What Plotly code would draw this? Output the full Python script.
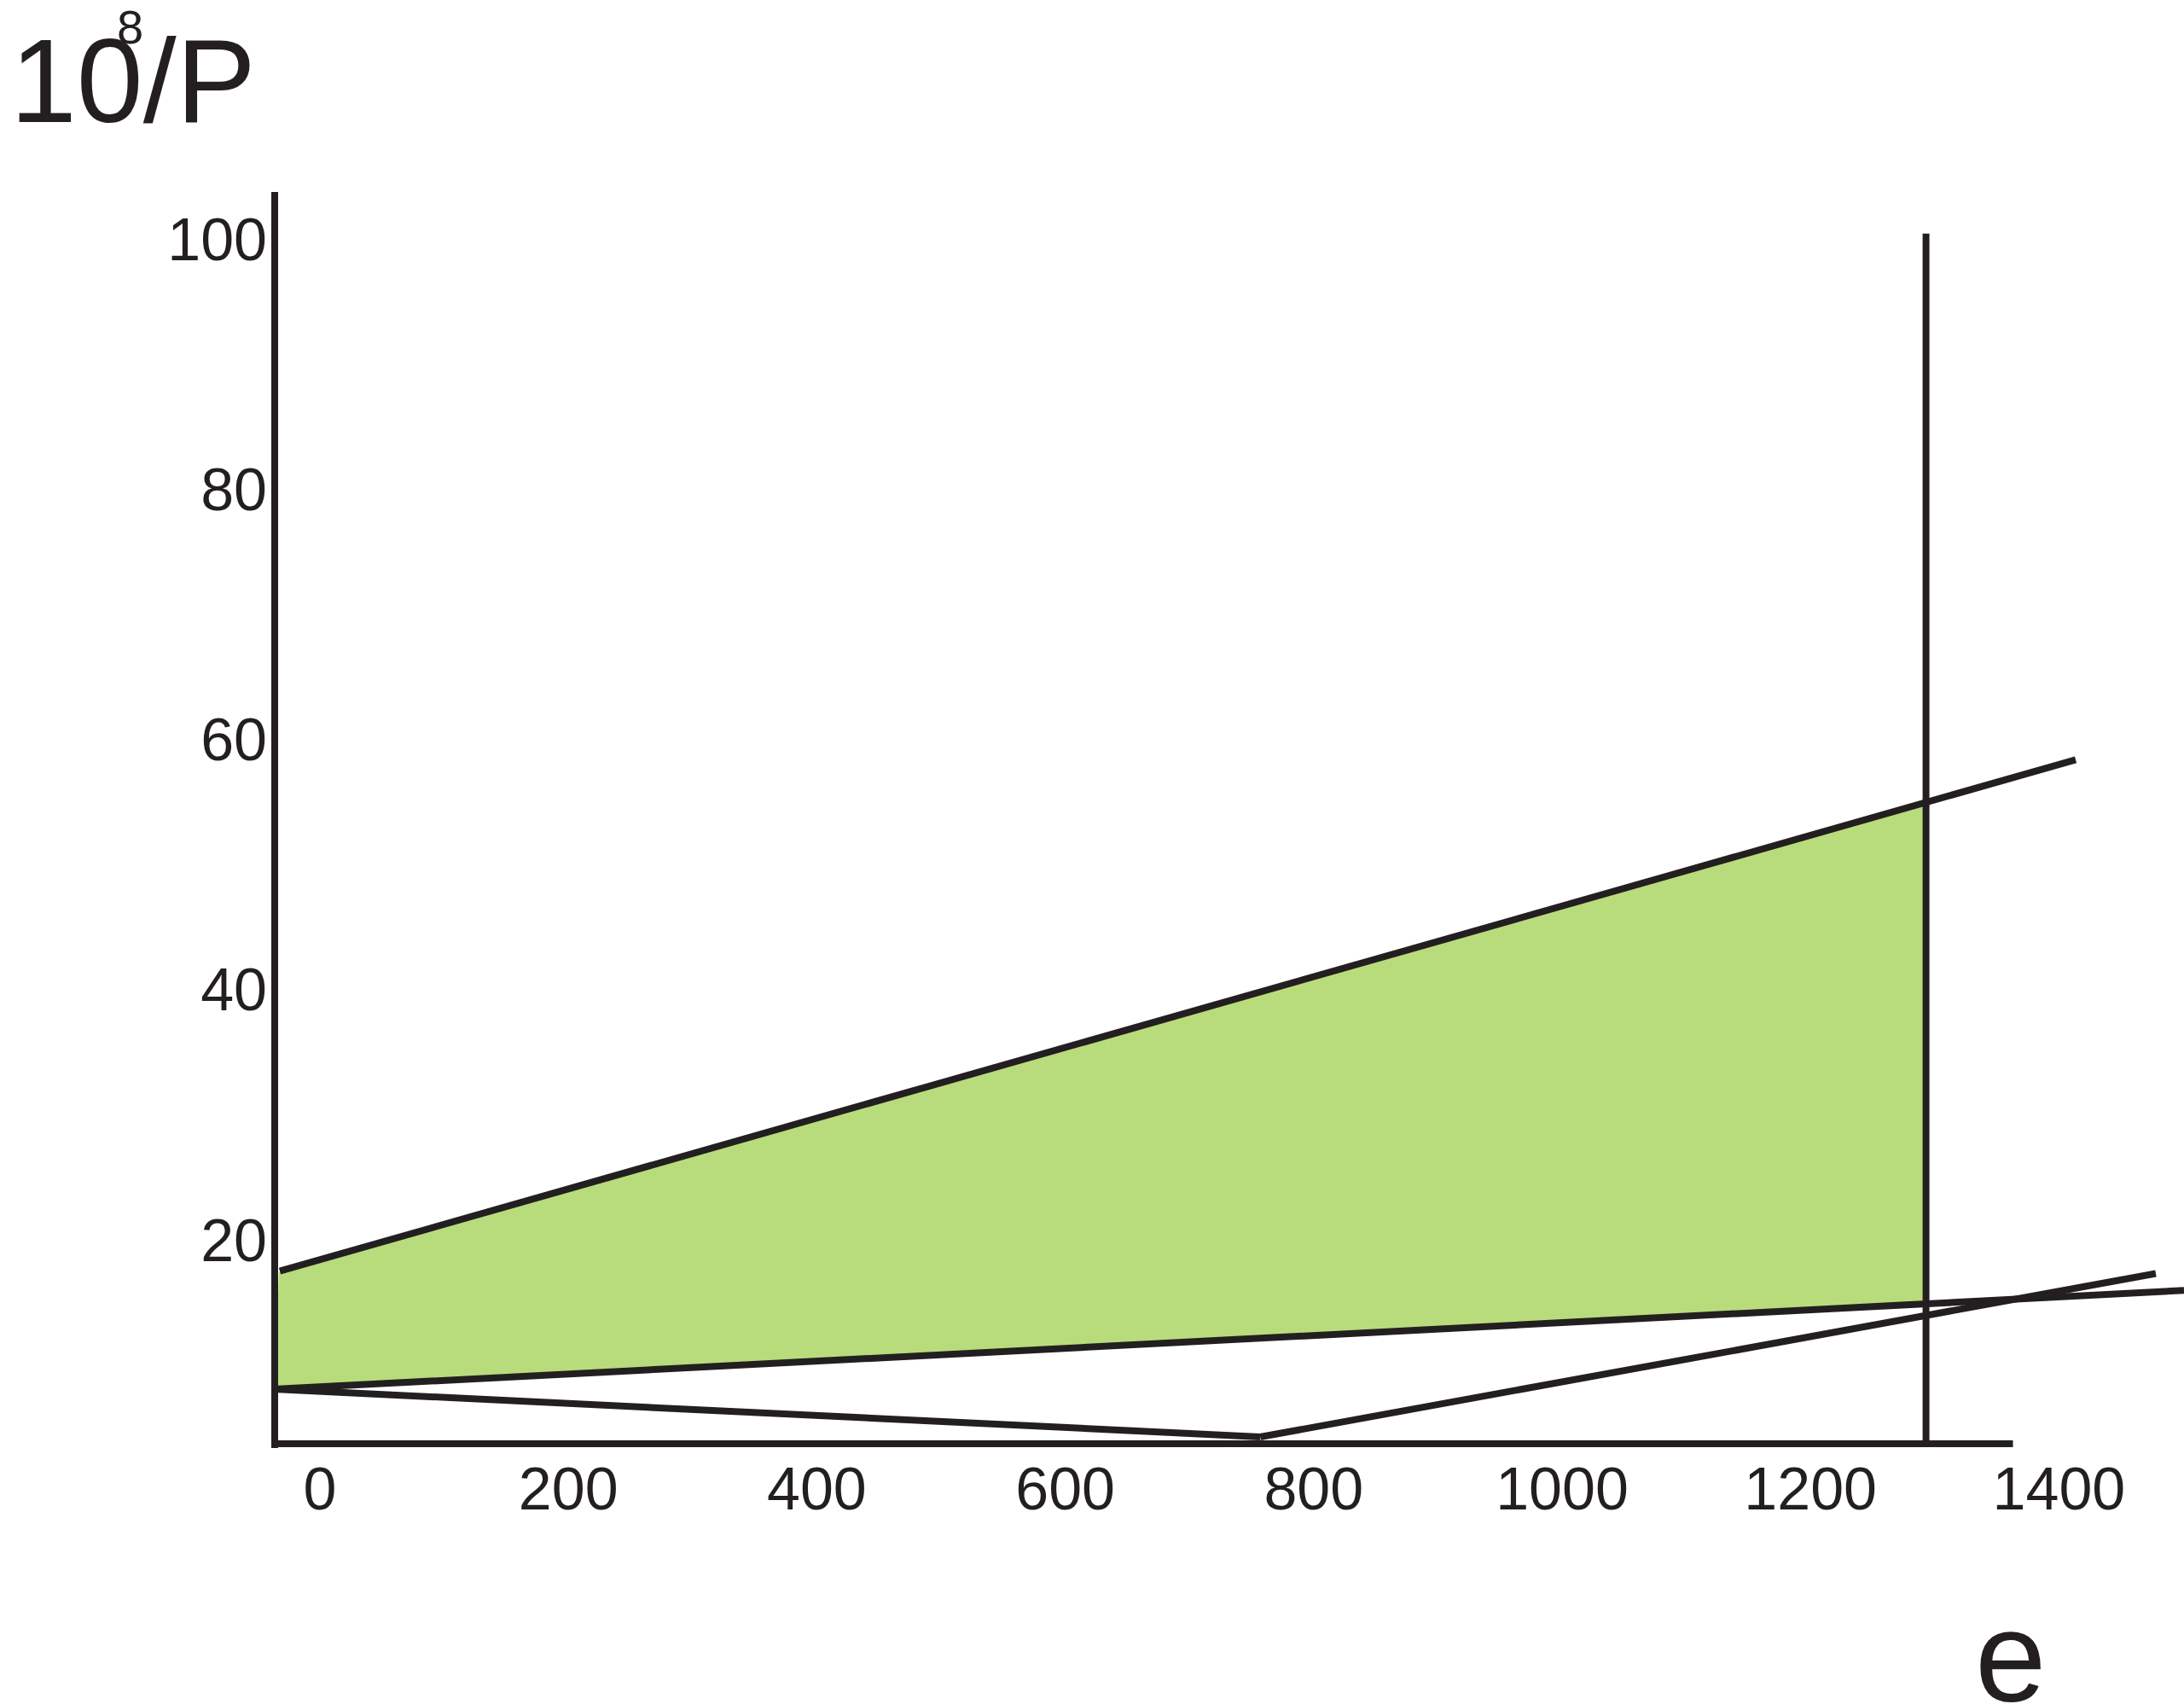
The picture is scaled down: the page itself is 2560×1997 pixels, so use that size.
import plotly.graph_objects as go

# values (e on x, 10^8/P on y)
upper_e = [-32.3, 1413.5]
upper_p = [17.5, 58.4]

mid_e = [-36.4, 1500.7]
mid_p = [8.05, 15.95]

low_left_e = [-36.4, 757]
low_left_p = [8.05, 4.23]

low_right_e = [757, 1478]
low_right_p = [4.23, 17.3]

limit_e = [1293, 1293]
limit_p = [3.69, 100.5]

# green region between the two top lines, up to the limit
area_e = [-36.4, -33.0, 1293, 1293]
area_p = [8.05, 17.4, 55.0, 14.9]

x_axis_e = [-36.4, 1363]
x_axis_p = [3.69, 3.69]

x_ticks = [0, 200, 400, 600, 800, 1000, 1200, 1400]
y_ticks = [20, 40, 60, 80, 100]

INK = "#231f20"
GREEN = "#b8dc7c"
FONT = "Liberation Sans, Arial, sans-serif"

W, H = 2560, 1997
L, R, T, B = 326, 0, 225, 300


def px_x(p):
    return (p - L) / (W - L - R)


def px_y(p):
    return (H - B - p) / (H - T - B)


fig = go.Figure()

fig.add_trace(go.Scatter(x=area_e, y=area_p, fill="toself", fillcolor=GREEN,
                         mode="lines", line=dict(width=0), hoverinfo="skip"))

for xs, ys in [(upper_e, upper_p), (mid_e, mid_p),
               (low_left_e, low_left_p), (low_right_e, low_right_p),
               (limit_e, limit_p), (x_axis_e, x_axis_p)]:
    fig.add_trace(go.Scatter(x=xs, y=ys, mode="lines",
                             line=dict(color=INK, width=8), hoverinfo="skip"))

fig.update_layout(
    width=W, height=H,
    margin=dict(l=L, r=R, t=T, b=B),
    paper_bgcolor="white", plot_bgcolor="white",
    showlegend=False,
    font=dict(family=FONT, color=INK, size=70),
)

fig.update_xaxes(range=[-33.65, 1500.7], tickvals=x_ticks,
                 ticktext=[str(v) for v in x_ticks],
                 showgrid=False, zeroline=False, showline=False, ticks="",
                 ticklabelstandoff=1,
                 tickfont=dict(family=FONT, size=70, color=INK))
fig.update_yaxes(range=[3.345, 103.82], tickvals=y_ticks,
                 ticktext=[str(v) for v in y_ticks],
                 showgrid=False, zeroline=False, showline=True,
                 linewidth=8, linecolor=INK, ticks="",
                 ticklabelstandoff=-9,
                 tickfont=dict(family=FONT, size=70, color=INK))

# axis titles
fig.add_annotation(text="10/P", xref="paper", yref="paper",
                   x=px_x(10), y=px_y(95), xanchor="left", yanchor="middle",
                   showarrow=False, font=dict(family=FONT, size=140, color=INK))
fig.add_annotation(text="8", xref="paper", yref="paper",
                   x=px_x(152), y=px_y(32), xanchor="center", yanchor="middle",
                   showarrow=False, font=dict(family=FONT, size=56, color=INK))
fig.add_annotation(text="e", xref="paper", yref="paper",
                   x=px_x(2356), y=px_y(1942), xanchor="center", yanchor="middle",
                   showarrow=False, font=dict(family=FONT, size=150, color=INK))

# drop the page's default body margin so the figure sits at the window corner
fig.write_html("out.html", config={"displayModeBar": False},
               post_script="document.body.style.margin='0';")
